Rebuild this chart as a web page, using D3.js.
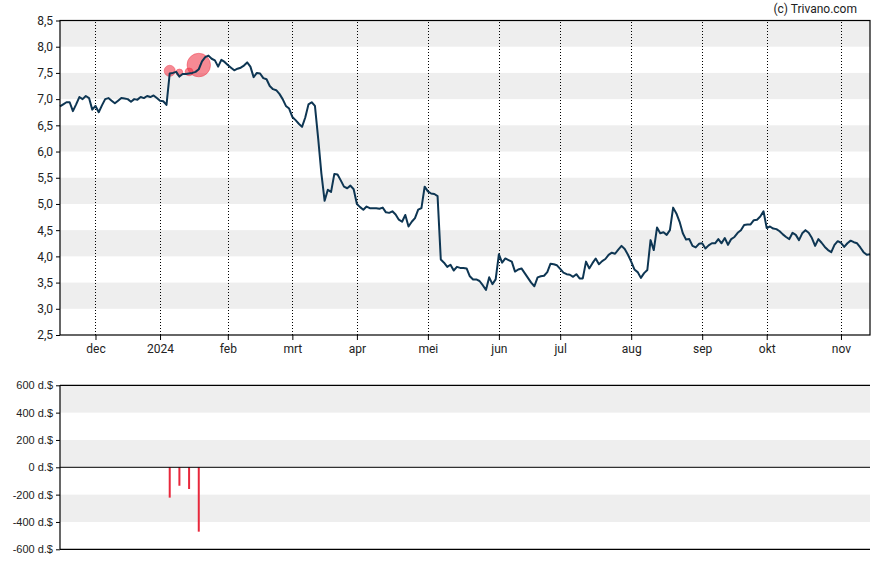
<!DOCTYPE html>
<html>
<head>
<meta charset="utf-8">
<script src="https://cdn.jsdelivr.net/npm/d3@7"></script>
<style>
  html, body { margin: 0; padding: 0; background: #ffffff; }
  svg { display: block; }
</style>
</head>
<body>
<svg id="chart" width="888" height="565"></svg>
<script>
// ---- data (trading-day index based) ----
const prices = [
  6.86,6.90,6.94,6.94,6.77,6.90,7.04,7.00,7.06,7.02,
  6.80,6.87,6.75,6.88,7.00,7.02,6.97,6.92,6.97,7.02,
  7.01,7.00,6.95,7.00,6.99,7.04,7.02,7.06,7.04,7.07,
  7.02,6.97,6.96,6.89,7.49,7.50,7.52,7.43,7.48,7.48,
  7.49,7.50,7.52,7.57,7.72,7.80,7.83,7.77,7.74,7.62,
  7.75,7.71,7.65,7.60,7.55,7.58,7.60,7.64,7.70,7.62,
  7.42,7.50,7.49,7.40,7.38,7.25,7.19,7.17,7.10,7.00,
  6.87,6.82,6.66,6.60,6.53,6.47,6.65,6.90,6.94,6.87,
  6.25,5.58,5.06,5.27,5.23,5.57,5.56,5.45,5.33,5.30,
  5.35,5.28,5.00,4.94,4.89,4.95,4.92,4.92,4.92,4.91,
  4.93,4.84,4.83,4.86,4.80,4.70,4.66,4.79,4.57,4.66,
  4.73,4.89,4.92,5.33,5.24,5.20,5.19,5.15,3.94,3.88,
  3.80,3.84,3.73,3.80,3.78,3.78,3.77,3.62,3.56,3.56,
  3.53,3.45,3.36,3.60,3.47,3.56,4.04,3.88,3.96,3.93,
  3.90,3.71,3.75,3.77,3.68,3.59,3.50,3.43,3.60,3.62,
  3.63,3.70,3.86,3.85,3.83,3.76,3.69,3.66,3.65,3.61,
  3.66,3.58,3.58,3.90,3.77,3.87,3.96,3.85,3.91,3.95,
  4.03,4.07,4.05,4.13,4.20,4.14,4.03,3.90,3.75,3.70,
  3.59,3.68,3.74,4.31,4.12,4.55,4.44,4.46,4.41,4.50,
  4.93,4.82,4.66,4.44,4.32,4.33,4.20,4.17,4.24,4.25,
  4.15,4.21,4.25,4.25,4.33,4.25,4.35,4.22,4.33,4.37,
  4.45,4.50,4.60,4.61,4.61,4.69,4.70,4.76,4.86,4.54,
  4.57,4.53,4.52,4.48,4.42,4.37,4.33,4.45,4.41,4.31,
  4.44,4.50,4.45,4.35,4.20,4.33,4.26,4.18,4.12,4.08,
  4.22,4.29,4.26,4.18,4.25,4.30,4.27,4.25,4.17,4.08,
  4.03,4.04
];
const monthLabels = ["dec","2024","feb","mrt","apr","mei","jun","jul","aug","sep","okt","nov"];
const monthIdx    = [11, 31, 52, 72, 92, 114, 136, 155, 177, 199, 219, 242];
const priceTicks  = [2.5,3.0,3.5,4.0,4.5,5.0,5.5,6.0,6.5,7.0,7.5,8.0,8.5];
const tradeIdx    = [34, 37, 40, 43];
const tradePrice  = [7.54, 7.51, 7.52, 7.65];
const tradeValue  = [-222, -135, -159, -471];   // thousand dollars
const valueTicks  = [-600,-400,-200,0,200,400,600];

// ---- layout ----
const svg = d3.select("#chart");
const L = 60, R = 870;
const top1 = 20.5, bot1 = 335;
const top2 = 385.3, bot2 = 549.3;
const lineColor = "#0e3653";
const red = "#e8283c";

const x = d3.scaleLinear().domain([0, prices.length - 1]).range([L, R]);
const y = d3.scaleLinear().domain([2.5, 8.5]).range([bot1, top1]);
const y2 = d3.scaleLinear().domain([-600, 600]).range([bot2, top2]);
const rScale = d3.scaleLinear().domain([0, 500]).range([0, 12.5]);

// ---- top panel bands ----
const bands1 = priceTicks.filter((t, i) => i % 2 === 1).map(t => [t, t + 0.5]);
svg.append("g").selectAll("rect").data(bands1).join("rect")
  .attr("x", L).attr("width", R - L)
  .attr("y", d => y(d[1])).attr("height", d => y(d[0]) - y(d[1]))
  .attr("fill", "#eeeeee");

// vertical dotted month lines
svg.append("g").selectAll("line").data(monthIdx).join("line")
  .attr("x1", d => Math.round(x(d)) + 0.5).attr("x2", d => Math.round(x(d)) + 0.5)
  .attr("y1", 22).attr("y2", bot1)
  .attr("stroke", "#000").attr("stroke-width", 1)
  .attr("stroke-dasharray", "1,2")
  .attr("shape-rendering", "crispEdges");

// trade circles
svg.append("g").selectAll("circle").data(tradeIdx).join("circle")
  .attr("cx", (d) => x(d))
  .attr("cy", (d, i) => y(tradePrice[i]))
  .attr("r", (d, i) => rScale(Math.abs(tradeValue[i])))
  .attr("fill", "#ee2a3c").attr("fill-opacity", 0.55)
  .attr("stroke", "#ee2a3c").attr("stroke-opacity", 0.4);

// price line
svg.append("path").datum(prices)
  .attr("fill", "none").attr("stroke", lineColor).attr("stroke-width", 2)
  .attr("stroke-linejoin", "round")
  .attr("d", d3.line().x((d, i) => x(i)).y(d => y(d)));

// frame top panel
svg.append("rect").attr("x", L).attr("y", top1).attr("width", R - L).attr("height", bot1 - top1)
  .attr("fill", "none").attr("stroke", "#000").attr("stroke-width", 1.2);

// axes top
const fmt = d3.format(".1f");
const yAxis = d3.axisLeft(y).tickValues(priceTicks).tickSize(4).tickPadding(3)
  .tickFormat(d => fmt(d).replace(".", ","));
const gy = svg.append("g").attr("transform", `translate(${L},0)`).call(yAxis);
gy.select(".domain").remove();
gy.selectAll("text").attr("font-family", "Roboto, sans-serif").attr("font-size", 12).attr("fill", "#222");

const xAxis = d3.axisBottom(x).tickValues(monthIdx).tickSize(5).tickPadding(4)
  .tickFormat((d, i) => monthLabels[i]);
const gx = svg.append("g").attr("transform", `translate(0,${bot1})`).call(xAxis);
gx.select(".domain").remove();
gx.selectAll("text").attr("font-family", "Roboto, sans-serif").attr("font-size", 12).attr("fill", "#222");

// copyright
svg.append("text").attr("x", 857).attr("y", 13).attr("text-anchor", "end")
  .attr("font-family", "Roboto, sans-serif").attr("font-size", 12).attr("fill", "#222")
  .text("(c) Trivano.com");

// ---- bottom panel ----
const bands2 = [[400, 600], [0, 200], [-400, -200]];
svg.append("g").selectAll("rect").data(bands2).join("rect")
  .attr("x", L).attr("width", R - L)
  .attr("y", d => y2(d[1])).attr("height", d => y2(d[0]) - y2(d[1]))
  .attr("fill", "#eeeeee");

svg.append("g").selectAll("line").data(tradeIdx).join("line")
  .attr("x1", d => x(d)).attr("x2", d => x(d))
  .attr("y1", y2(0)).attr("y2", (d, i) => y2(tradeValue[i]))
  .attr("stroke", red).attr("stroke-width", 2);

svg.append("line").attr("x1", L).attr("x2", R).attr("y1", y2(0)).attr("y2", y2(0))
  .attr("stroke", "#000").attr("stroke-width", 1);

svg.append("line").attr("x1", L).attr("x2", R).attr("y1", top2).attr("y2", top2)
  .attr("stroke", "#000").attr("stroke-width", 1.2);
svg.append("line").attr("x1", L).attr("x2", R).attr("y1", bot2).attr("y2", bot2)
  .attr("stroke", "#000").attr("stroke-width", 1.2);
svg.append("line").attr("x1", L).attr("x2", L).attr("y1", top2).attr("y2", bot2)
  .attr("stroke", "#000").attr("stroke-width", 1.2);

const yAxis2 = d3.axisLeft(y2).tickValues(valueTicks).tickSize(4).tickPadding(3)
  .tickFormat(d => d + " d.$");
const gy2 = svg.append("g").attr("transform", `translate(${L},0)`).call(yAxis2);
gy2.select(".domain").remove();
gy2.selectAll("text").attr("font-family", "Arial, 'Liberation Sans', sans-serif").attr("font-size", 11).attr("fill", "#222");
</script>
</body>
</html>
